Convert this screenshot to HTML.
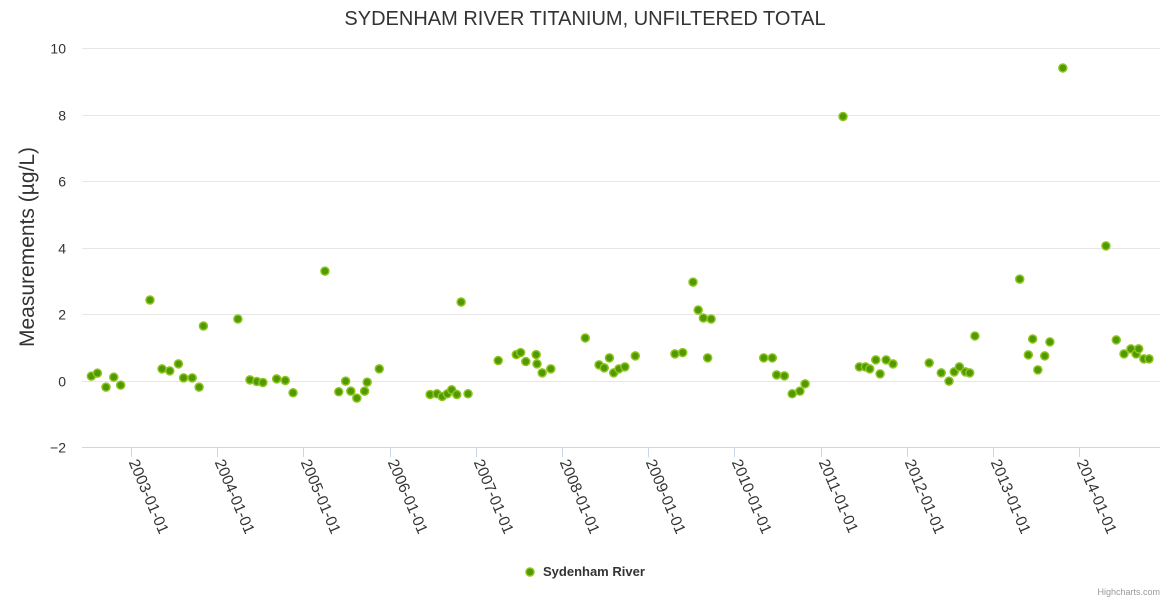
<!DOCTYPE html>
<html><head><meta charset="utf-8"><style>
html,body{margin:0;padding:0;background:#fff;}
svg{display:block;font-family:"Liberation Sans","DejaVu Sans",sans-serif;}
</style></head><body>
<svg id="chart" width="1170" height="600" xmlns="http://www.w3.org/2000/svg">
<text x="585" y="25" text-anchor="middle" font-size="20" fill="#333">SYDENHAM RIVER TITANIUM, UNFILTERED TOTAL</text>
<g id="grid"></g>
<g id="yticks"></g>
<g id="xticks"></g>
<text transform="translate(34,247) rotate(-90)" text-anchor="middle" font-size="21" fill="#333">Measurements (µg/L)</text>
<g id="points"></g>
<g>
<circle cx="530" cy="572" r="4" fill="#4f9a00" stroke="#8fc31f" stroke-width="1.5"/>
<text x="543" y="576" font-size="13" font-weight="bold" fill="#333">Sydenham River</text>
</g>
<text x="1160" y="595" text-anchor="end" font-size="9" fill="#999">Highcharts.com</text>
</svg>
<script>
const yTicks = [-2, 0, 2, 4, 6, 8, 10];
const xTickYears = [2003, 2004, 2005, 2006, 2007, 2008, 2009, 2010, 2011, 2012, 2013, 2014];
const dates = [2002.54,2002.61,2002.71,2002.80,2002.88,2003.22,2003.36,2003.45,2003.55,2003.61,2003.71,2003.79,2003.84,
2004.24,2004.38,2004.46,2004.53,2004.69,2004.79,2004.88,2005.25,2005.41,2005.49,2005.55,2005.62,2005.71,2005.74,2005.88,
2006.47,2006.55,2006.61,2006.67,2006.72,2006.78,2006.83,2006.91,2007.26,2007.47,2007.52,2007.58,2007.70,2007.71,2007.77,2007.87,
2008.27,2008.43,2008.49,2008.55,2008.60,2008.66,2008.73,2008.85,2009.31,2009.40,2009.52,2009.58,2009.64,2009.69,2009.73,
2010.34,2010.44,2010.49,2010.58,2010.67,2010.76,2010.82,2011.26,2011.45,2011.52,2011.57,2011.64,2011.69,2011.76,2011.84,
2012.26,2012.40,2012.49,2012.55,2012.61,2012.68,2012.73,2012.79,2013.31,2013.41,2013.46,2013.52,2013.60,2013.66,2013.81,
2014.31,2014.43,2014.52,2014.60,2014.66,2014.69,2014.75,2014.81];
const values = [0.13,0.22,-0.2,0.1,-0.14,2.42,0.35,0.29,0.5,0.08,0.08,-0.2,1.64,
1.85,0.02,-0.03,-0.06,0.05,0.0,-0.37,3.29,-0.34,-0.02,-0.32,-0.53,-0.32,-0.05,0.35,
-0.42,-0.4,-0.48,-0.4,-0.28,-0.42,2.36,-0.4,0.6,0.78,0.84,0.57,0.78,0.5,0.23,0.35,
1.28,0.47,0.38,0.68,0.23,0.35,0.41,0.74,0.8,0.84,2.96,2.12,1.88,0.68,1.85,
0.68,0.68,0.17,0.14,-0.4,-0.32,-0.1,7.94,0.41,0.41,0.35,0.62,0.2,0.62,0.5,
0.53,0.23,-0.02,0.26,0.41,0.26,0.23,1.34,3.05,0.77,1.25,0.32,0.74,1.16,9.4,
4.05,1.22,0.8,0.95,0.8,0.95,0.65,0.65];

const NS = "http://www.w3.org/2000/svg";
const plotL = 82, plotR = 1160;
function yPos(v){ return 380.5 - v * 33.25; }
function xPos(t){ return 131 + (t - 2003) * 86.2; }
function mk(tag, attrs, parent){ const e=document.createElementNS(NS,tag); for(const k in attrs) e.setAttribute(k,attrs[k]); parent.appendChild(e); return e; }

const grid=document.getElementById('grid'), yt=document.getElementById('yticks');
yTicks.forEach(v=>{
  const y=Math.round(yPos(v))+0.5;
  const l=mk('line',{x1:plotL,x2:plotR,y1:y,y2:y,stroke:v===-2?'#ccd6eb':'#e6e6e6','stroke-width':1},grid);
  
  
  const t=mk('text',{x:66,y:y+5,'text-anchor':'end','font-size':14,fill:'#333'},yt);
  
  
  t.textContent = v<0 ? '\u2212'+Math.abs(v) : String(v);
});
const xt=document.getElementById('xticks');
xTickYears.forEach(yr=>{
  const x=Math.round(xPos(yr))+0.5;
  const tk=mk('line',{x1:x,x2:x,y1:447,y2:457,stroke:'#ccd6eb'},xt);
  
  
  const t=mk('text',{x:0,y:0,'font-size':15.5,fill:'#333',transform:`translate(${x-3},${462}) rotate(67)`},xt);
  
  
  t.textContent = yr+'-01-01';
});
const pts=document.getElementById('points');
dates.forEach((d,i)=>{
  const c=mk('circle',{cx:xPos(d),cy:yPos(values[i]),r:4,fill:'#4f9a00',stroke:'#8fc31f','stroke-width':1.5},pts);
  
  
});
</script>
</body></html>
